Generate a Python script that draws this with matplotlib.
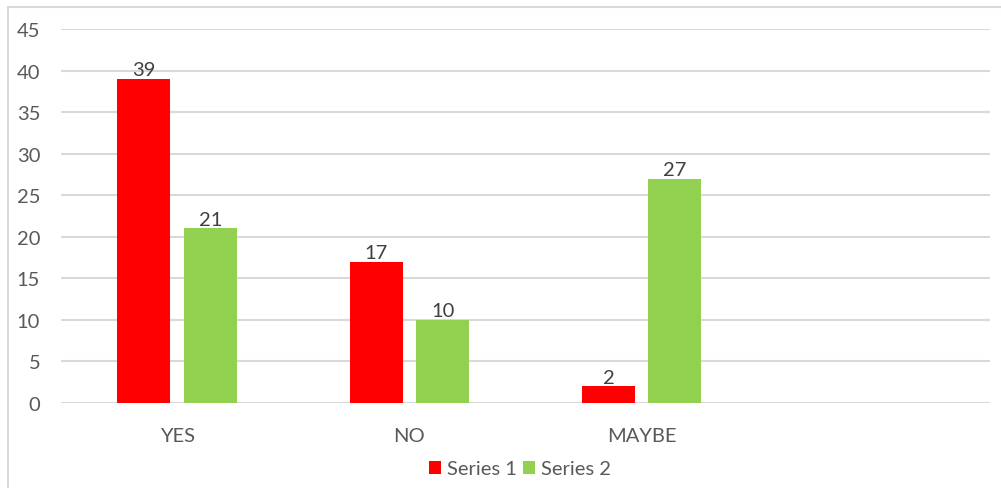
import matplotlib
matplotlib.use("Agg")
import matplotlib.pyplot as plt
from matplotlib.patches import Rectangle
import numpy as np

categories = ["YES", "NO", "MAYBE", ""]
series1 = [39, 17, 2, None]
series2 = [21, 10, 27, None]
series_names = ["Series 1", "Series 2"]
colors = ["#FF0000", "#92D050"]
yticks = [0, 5, 10, 15, 20, 25, 30, 35, 40, 45]

plt.rcParams['font.family'] = ['Lato', 'DejaVu Sans']
W, H = 1001, 489
fig = plt.figure(figsize=(W / 100, H / 100), dpi=100)
fig.patch.set_facecolor("white")

# outer chart border (left and top visible)
fig.add_artist(Rectangle((8 / W, -0.1), 1.2, (H - 8) / H + 0.1, transform=fig.transFigure,
                         fill=False, edgecolor="#D9D9D9", linewidth=1.5))

ax = fig.add_axes([61 / W, 1 - 404 / H, (990 - 61) / W, (404 - 30) / H])
x = np.arange(len(categories))
bw = 0.228
off = 0.143
text_color = "#595959"
fs = 14.5
for i, (vals, name, c, o) in enumerate(zip([series1, series2], series_names, colors, [-off, off])):
    xs = [xi + o for xi, v in zip(x, vals) if v is not None]
    vs = [v for v in vals if v is not None]
    bars = ax.bar(xs, vs, width=bw, color=c, label=name, zorder=3)
    for xx, v in zip(xs, vs):
        ax.text(xx, v + 0.1, str(v), ha="center", va="bottom", fontsize=fs, color="#404040")

ax.set_xlim(-0.5, len(categories) - 0.5)
ax.set_ylim(0, 45)
ax.set_yticks(yticks)
ax.set_yticklabels([str(t) for t in yticks], fontsize=fs, color=text_color)
ax.set_xticks(x)
ax.set_xticklabels(categories, fontsize=fs, color=text_color)
ax.tick_params(axis="both", length=0)
ax.tick_params(axis="y", pad=15)
ax.tick_params(axis="x", pad=17)
for y in yticks:
    ax.axhline(y, color="#D9D9D9", linewidth=1.5, zorder=1)
for s in ax.spines.values():
    s.set_visible(False)

leg = fig.legend(loc="center", bbox_to_anchor=(520 / W, 1 - 470 / H), ncol=2, frameon=False,
                 fontsize=fs, handlelength=0.6, handleheight=0.6, handletextpad=0.3,
                 columnspacing=0.3, labelcolor=text_color)

fig.savefig("out.png", dpi=100, facecolor="white")
